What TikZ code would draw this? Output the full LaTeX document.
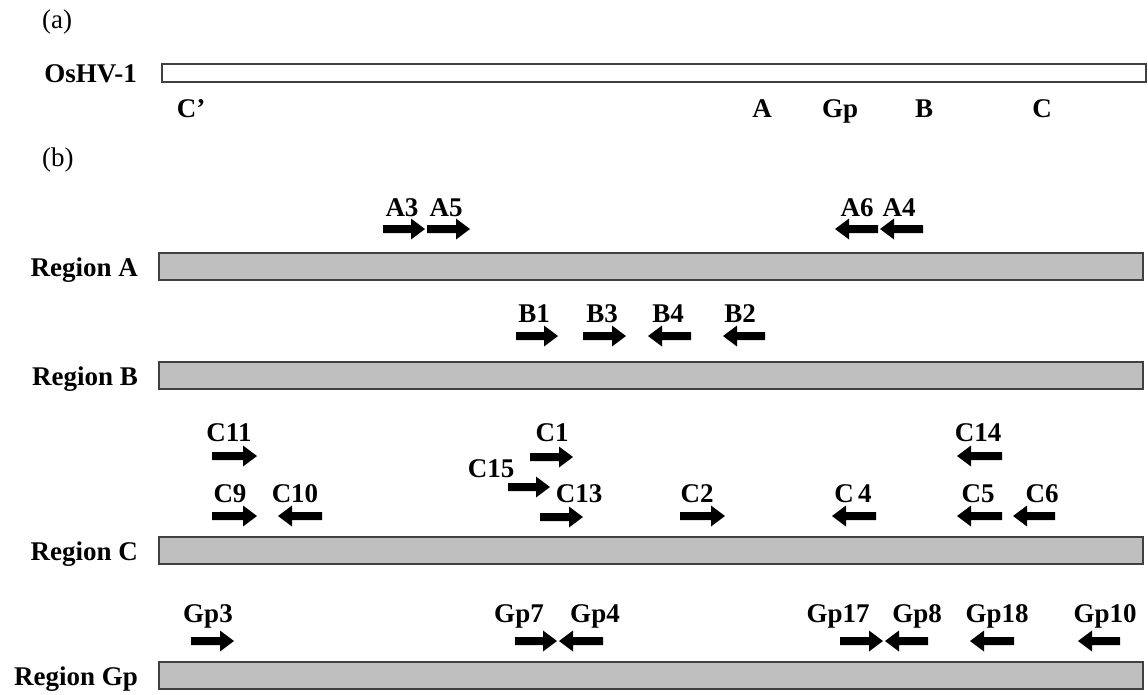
\documentclass[tikz,border=0pt]{standalone}
\usepackage{fontspec}
\setmainfont{Liberation Serif}
\begin{document}
\begin{tikzpicture}[x=1pt,y=-1pt,
  lab/.style={font=\fontsize{27}{30}\selectfont\bfseries, inner sep=0pt, anchor=base},
  rowlab/.style={font=\fontsize{27}{30}\selectfont\bfseries, inner sep=0pt, anchor=base east},
  panel/.style={font=\fontsize{27}{30}\selectfont, inner sep=0pt, anchor=west},
  genome/.style={draw=black!75, line width=1.6pt, fill=white},
  region/.style={draw=black!75, line width=1.6pt, fill=black!25},
  primer/.style={fill=black}]
\useasboundingbox (0,0) rectangle (1148,694);

% forward / reverse primer arrows: {x start}{x end}{y}
\newcommand\fwdprimer[3]{\fill[primer] (#1,#3-4) -- (#2-14,#3-4) -- (#2-14,#3-10.5) -- (#2,#3)
  -- (#2-14,#3+10.5) -- (#2-14,#3+4) -- (#1,#3+4) -- cycle;}
\newcommand\revprimer[3]{\fill[primer] (#2,#3-4) -- (#1+14,#3-4) -- (#1+14,#3-10.5) -- (#1,#3)
  -- (#1+14,#3+10.5) -- (#1+14,#3+4) -- (#2,#3+4) -- cycle;}

% ---------- (a) genome ----------
\node[panel] (pa) at (42,22) {(a)};
\node[rowlab] (gname) at (137,82) {OsHV-1};
\draw[genome] (162,64) rectangle (1146,82);
\node[lab] (gC1) at (191,117) {C’};
\node[lab] (gA) at (762,117) {A};
\node[lab] (gGp) at (840,117) {Gp};
\node[lab] (gB) at (924,117) {B};
\node[lab] (gC) at (1042,117) {C};

% ---------- (b) regions ----------
\node[panel] (pb) at (42,160) {(b)};

% Region A
\node[rowlab] (rA) at (138,276) {Region A};
\draw[region] (159,253) rectangle (1143,280);
\node[lab] (A3) at (402,216) {A3};  \fwdprimer{383}{425}{229}
\node[lab] (A5) at (446,216) {A5};  \fwdprimer{427}{470}{229}
\node[lab] (A6) at (857,216) {A6};  \revprimer{835}{878}{229}
\node[lab] (A4) at (899,216) {A4};  \revprimer{880}{923}{229}

% Region B
\node[rowlab] (rB) at (138,385) {Region B};
\draw[region] (159,362) rectangle (1143,389);
\node[lab] (B1) at (534,322) {B1};  \fwdprimer{516}{558}{336}
\node[lab] (B3) at (602,322) {B3};  \fwdprimer{583}{626}{336}
\node[lab] (B4) at (668,322) {B4};  \revprimer{648}{691}{336}
\node[lab] (B2) at (740,322) {B2};  \revprimer{723}{765}{336}

% Region C
\node[rowlab] (rC) at (138,560) {Region C};
\draw[region] (159,537) rectangle (1143,564);
\node[lab] (C11) at (229,441) {C11}; \fwdprimer{212}{257}{456}
\node[lab] (C1)  at (552,441) {C1};  \fwdprimer{530}{573}{457}
\node[lab] (C14) at (978,441) {C14}; \revprimer{957}{1002}{456}
\node[lab] (C15) at (491,477) {C15}; \fwdprimer{508}{550}{487}
\node[lab] (C13) at (579,502) {C13}; \fwdprimer{540}{583}{517}
\node[lab] (C9)  at (230,502) {C9};  \fwdprimer{212}{257}{516}
\node[lab] (C10) at (295,502) {C10}; \revprimer{278}{322}{516}
\node[lab] (C2)  at (697,502) {C2};  \fwdprimer{680}{725}{516}
\node[lab] (C4)  at (853,502) {C\,4}; \revprimer{832}{876}{516}
\node[lab] (C5)  at (978,502) {C5};  \revprimer{957}{1002}{516}
\node[lab] (C6)  at (1042,502) {C6}; \revprimer{1013}{1055}{516}

% Region Gp
\node[rowlab] (rGp) at (138,685) {Region Gp};
\draw[region] (159,662) rectangle (1143,689);
\node[lab] (Gp3)  at (208,622)  {Gp3};  \fwdprimer{191}{234}{641}
\node[lab] (Gp7)  at (519,622)  {Gp7};  \fwdprimer{515}{557}{641}
\node[lab] (Gp4)  at (595,622)  {Gp4};  \revprimer{559}{603}{641}
\node[lab] (Gp17) at (838,622)  {Gp17}; \fwdprimer{840}{883}{641}
\node[lab] (Gp8)  at (917,622)  {Gp8};  \revprimer{885}{928}{641}
\node[lab] (Gp18) at (997,622)  {Gp18}; \revprimer{970}{1014}{641}
\node[lab] (Gp10) at (1105,622) {Gp10}; \revprimer{1078}{1120}{641}
\end{tikzpicture}
\end{document}
